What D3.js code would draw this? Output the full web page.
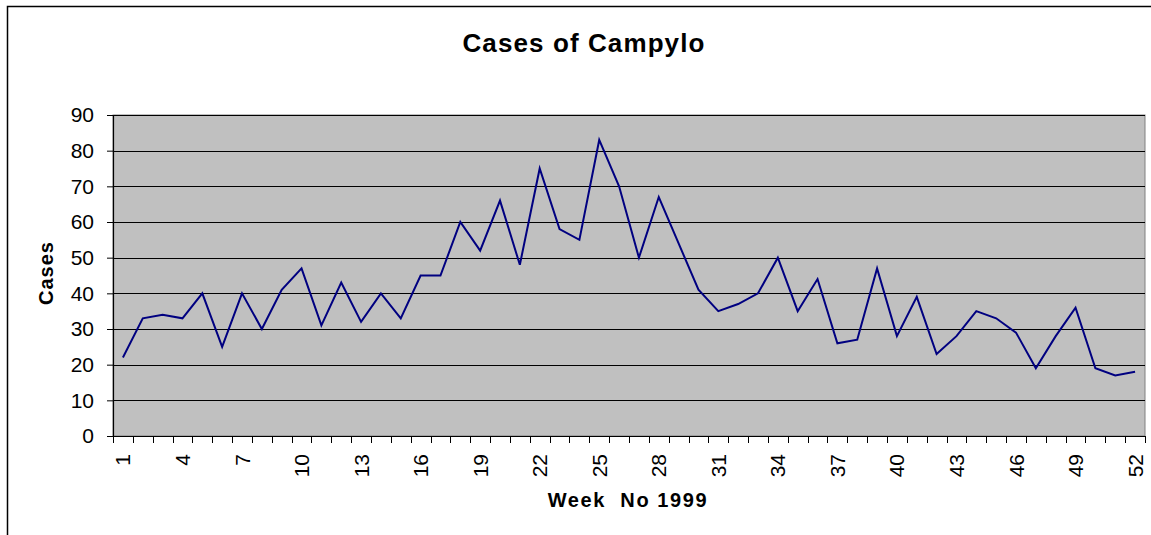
<!DOCTYPE html>
<html>
<head>
<meta charset="utf-8">
<script src="https://cdn.jsdelivr.net/npm/d3@7"></script>
<style>
  html, body { margin: 0; padding: 0; background: #fff; }
  svg text { font-family: "Liberation Sans", Arial, sans-serif; fill: #000; }
</style>
</head>
<body>
<svg id="chart" width="1151" height="535"></svg>
<script>
const weeks = d3.range(1, 53);
const cases = [22, 33, 34, 33, 40, 25, 40, 30, 41, 47,
               31, 43, 32, 40, 33, 45, 45, 60, 52, 66,
               48, 75, 58, 55, 83, 70, 50, 67, 54, 41,
               35, 37, 40, 50, 35, 44, 26, 27, 47, 28,
               39, 23, 28, 35, 33, 29, 19, 28, 36, 19,
               17, 18];
const yTicks = [0, 10, 20, 30, 40, 50, 60, 70, 80, 90];
const xTickLabels = weeks.filter(w => (w - 1) % 3 === 0);
const title = "Cases of Campylo";
const xTitle = "Week  No 1999";
const yTitle = "Cases";

const svg = d3.select("#chart");
const W = 1151, H = 535;
const plot = { left: 113, top: 115, right: 1145, bottom: 436 };

// outer chart border (left and top visible)
svg.append("path")
  .attr("d", `M7.5,${H + 2}V6.5H${W + 2}`)
  .attr("fill", "none").attr("stroke", "#000").attr("stroke-width", 1.5);

const x = d3.scaleBand().domain(weeks).range([plot.left, plot.right]).paddingInner(0).paddingOuter(0);
const y = d3.scaleLinear().domain([0, 90]).range([plot.bottom, plot.top]);

// plot background
svg.append("rect")
  .attr("x", plot.left).attr("y", plot.top)
  .attr("width", plot.right - plot.left).attr("height", plot.bottom - plot.top)
  .attr("fill", "#c0c0c0").attr("stroke", "#808080").attr("stroke-width", 1);

// gridlines
svg.append("g").selectAll("line").data(yTicks.filter(t => t > 0))
  .join("line")
  .attr("x1", plot.left).attr("x2", plot.right)
  .attr("y1", d => Math.round(y(d)) + 0.5).attr("y2", d => Math.round(y(d)) + 0.5)
  .attr("stroke", "#000").attr("stroke-width", 1);

// y axis
const yAxis = d3.axisLeft(y).tickValues(yTicks).tickSizeInner(6).tickSizeOuter(0).tickPadding(13);
const gy = svg.append("g").attr("transform", `translate(${plot.left},0)`).call(yAxis);
gy.select(".domain").attr("stroke", "#000").attr("stroke-width", 1.2);
gy.selectAll(".tick line").attr("stroke", "#000");
gy.selectAll(".tick text").attr("font-size", 21).attr("font-family", "Liberation Sans, Arial, sans-serif").attr("fill", "#000");

// x axis: ticks at category boundaries
const boundaries = d3.range(0, 53);
const step = x.step();
svg.append("line")
  .attr("x1", plot.left).attr("x2", plot.right)
  .attr("y1", plot.bottom + 0.5).attr("y2", plot.bottom + 0.5)
  .attr("stroke", "#000").attr("stroke-width", 1.2);
svg.append("g").selectAll("line").data(boundaries)
  .join("line")
  .attr("x1", d => Math.round(plot.left + d * step) + 0.5)
  .attr("x2", d => Math.round(plot.left + d * step) + 0.5)
  .attr("y1", plot.bottom).attr("y2", plot.bottom + 7)
  .attr("stroke", "#000").attr("stroke-width", 1);

svg.append("g").selectAll("text").data(xTickLabels)
  .join("text")
  .attr("transform", d => `translate(${x(d) + x.bandwidth() / 2 + 7.5},${plot.bottom + 18}) rotate(-90)`)
  .attr("text-anchor", "end")
  .attr("font-size", 21)
  .text(d => d);

// line
const line = d3.line()
  .x((d, i) => x(weeks[i]) + x.bandwidth() / 2)
  .y(d => y(d));
svg.append("path").datum(cases)
  .attr("d", line)
  .attr("fill", "none").attr("stroke", "#000080").attr("stroke-width", 2)
  .attr("stroke-linejoin", "miter");

// titles
svg.append("text").attr("x", 584).attr("y", 52)
  .attr("text-anchor", "middle").attr("font-size", 26).attr("font-weight", "bold")
  .attr("letter-spacing", 1.1)
  .text(title);
svg.append("text").attr("x", 628).attr("y", 507)
  .attr("text-anchor", "middle").attr("font-size", 20).attr("font-weight", "bold")
  .attr("letter-spacing", 1.6)
  .attr("xml:space", "preserve").style("white-space", "pre")
  .text(xTitle);
svg.append("text")
  .attr("transform", "translate(53,305) rotate(-90)")
  .attr("text-anchor", "start").attr("font-size", 20).attr("font-weight", "bold")
  .attr("letter-spacing", 1)
  .text(yTitle);
</script>
</body>
</html>
